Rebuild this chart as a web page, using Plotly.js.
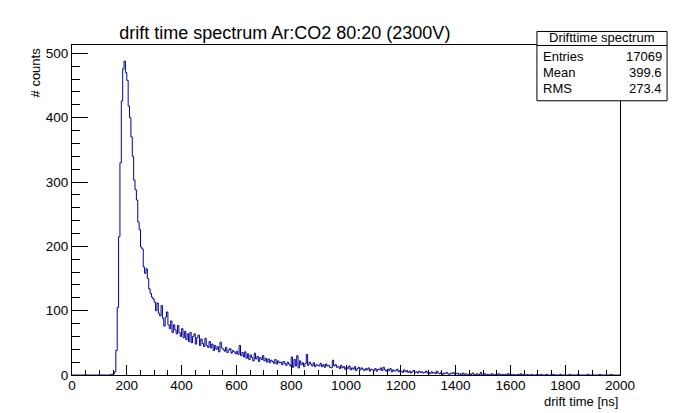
<!DOCTYPE html>
<html>
<head>
<meta charset="utf-8">
<script src="https://cdn.plot.ly/plotly-3.0.1.min.js"></script>
<style>html,body{margin:0;padding:0;background:#fff;}#chart{width:683px;height:413px;}</style>
</head>
<body>
<div id="chart"></div>
<script>
// Histogram: 400 bins of 5 ns from 0 to 2000 ns (counts per bin)
const binLow = 0;
const binWidth = 5;
const counts = [
  // 0-95 ns
  0,0,0,0,0,0,0,0,0,0,0,0,0,0,0,0,0,0,0,0,
  // 100-195
  0,0,0,0,0,0,0,0,1,0,2,5,38,105,215,330,426,476,488,470,
  // 200-295
  458,418,400,370,340,303,288,272,238,226,199,196,168,158,165,150,134,127,121,118,
  // 300-395
  113,100,112,96,92,108,88,76,90,98,78,72,84,66,78,70,64,77,66,60,
  // 400-495
  72,58,68,55,64,52,66,50,60,64,48,58,62,46,56,49,44,57,46,43,
  // 500-595
  52,42,48,38,46,40,44,36,51,42,40,37,43,35,39,41,34,38,36,33,
  // 600-695
  37,32,46,30,35,28,36,26,33,24,31,27,22,34,25,29,21,27,24,30,
  // 700-795
  22,26,20,25,19,23,21,18,24,17,22,19,20,16,21,18,15,20,17,14,
  // 800-895
  28,12,24,14,30,11,22,16,19,13,18,32,15,20,17,14,19,13,16,15,
  // 900-995
  14,18,13,16,12,17,14,15,12,11,23,14,16,12,13,10,15,11,13,9,
  // 1000-1095
  12,10,14,8,11,9,13,7,10,12,8,11,9,7,10,8,11,6,9,8,
  // 1100-1195
  7,10,6,9,8,11,7,12,8,6,9,7,10,5,8,6,7,9,5,7,
  // 1200-1295
  6,4,8,5,7,4,6,3,5,7,4,5,3,6,4,5,3,4,6,3,
  // 1300-1395
  4,2,5,3,4,2,6,3,2,4,1,3,2,4,2,1,3,2,4,1,
  // 1400-1495
  2,3,1,2,0,3,1,2,1,0,2,1,3,1,0,2,1,1,4,0,
  // 1500-1595
  1,2,0,1,1,0,2,1,0,1,0,2,1,0,1,0,1,0,2,0,
  // 1600-1695
  1,0,1,0,0,1,0,2,0,1,0,0,1,0,0,1,0,0,0,1,
  // 1700-1795
  0,0,1,0,0,0,1,0,0,0,0,1,0,0,0,0,1,0,0,0,
  // 1800-1895
  0,0,0,1,0,0,0,0,0,1,0,0,0,0,0,0,1,0,0,0,
  // 1900-1995
  0,0,0,0,0,1,0,0,0,0,0,0,0,1,0,0,0,0,0,0
];
const titleText = "drift time spectrum Ar:CO2 80:20 (2300V)";
const xTitle = "drift time [ns]";
const yTitle = "# counts";
const statsName = "Drifttime spectrum";
const statsLabels = ["Entries", "Mean", "RMS"];
const statsValues = ["17069", "399.6", "273.4"];

// step outline: left edge of each bin, plus the final right edge
const xs = counts.map((c, i) => binLow + i * binWidth);
const ys = counts.slice();
xs.push(binLow + counts.length * binWidth);
ys.push(counts[counts.length - 1]);

const FONT = "Liberation Sans, Arial, Helvetica, sans-serif";
const trace = {
  type: "scatter", mode: "lines", x: xs, y: ys,
  line: {shape: "hv", color: "#000099", width: 1},
  hoverinfo: "skip", showlegend: false
};

// stats box geometry (paper coords)
const bx0 = 0.8484, bx1 = 1.0859, by0 = 0.831, by1 = 1.041, bsep = 0.9985;
const rowY = [0.966, 0.917, 0.868];

const annotations = [
  {xref: "paper", yref: "paper", x: -0.0667, y: 1.0, xanchor: "center", yanchor: "top",
   text: yTitle, textangle: -90, showarrow: false, font: {family: FONT, size: 13, color: "#000"}},
  {xref: "paper", yref: "paper", x: 1.0, y: -0.079, xanchor: "right", yanchor: "middle",
   text: xTitle, showarrow: false, font: {family: FONT, size: 13, color: "#000"}},
  {xref: "paper", yref: "paper", x: (bx0 + bx1) / 2, y: 1.0215, xanchor: "center", yanchor: "middle",
   text: statsName, showarrow: false, font: {family: FONT, size: 13, color: "#000"}}
];
statsLabels.forEach((lab, k) => {
  annotations.push({xref: "paper", yref: "paper", x: 0.8557, y: rowY[k], xanchor: "left", yanchor: "middle",
    text: lab, showarrow: false, font: {family: FONT, size: 13, color: "#000"}});
  annotations.push({xref: "paper", yref: "paper", x: 1.0804, y: rowY[k], xanchor: "right", yanchor: "middle",
    text: statsValues[k], showarrow: false, font: {family: FONT, size: 13, color: "#000"}});
});

const layout = {
  width: 683, height: 413,
  margin: {l: 72, r: 63, t: 45, b: 38, pad: 0},
  paper_bgcolor: "#ffffff", plot_bgcolor: "#ffffff",
  font: {family: FONT, color: "#000"},
  title: {text: titleText, font: {family: FONT, size: 18, color: "#000"},
          x: 0.417, xref: "container", xanchor: "center", y: 0.92, yref: "container", yanchor: "middle"},
  xaxis: {
    range: [0, 2000], dtick: 200, tick0: 0, ticks: "inside", ticklen: 10, tickcolor: "#000", tickwidth: 1,
    minor: {dtick: 50, ticks: "inside", ticklen: 5, tickcolor: "#000", tickwidth: 1},
    showgrid: false, zeroline: false, showline: true, linecolor: "#000", linewidth: 1, mirror: true,
    ticklabelstandoff: -2,
    tickfont: {family: FONT, size: 13.5, color: "#000"}, fixedrange: true
  },
  yaxis: {
    range: [0, 513], dtick: 100, tick0: 0, ticks: "inside", ticklen: 16, tickcolor: "#000", tickwidth: 1,
    minor: {dtick: 20, ticks: "inside", ticklen: 8, tickcolor: "#000", tickwidth: 1},
    showgrid: false, zeroline: false, showline: true, linecolor: "#000", linewidth: 1, mirror: true,
    tickfont: {family: FONT, size: 13.5, color: "#000"}, fixedrange: true
  },
  shapes: [
    {type: "rect", xref: "paper", yref: "paper", x0: bx0, x1: bx1, y0: by0, y1: by1,
     line: {color: "#000", width: 1}, fillcolor: "#fff", layer: "above"},
    {type: "line", xref: "paper", yref: "paper", x0: bx0, x1: bx1, y0: bsep, y1: bsep,
     line: {color: "#000", width: 1}, layer: "above"}
  ],
  annotations: annotations
};

Plotly.newPlot("chart", [trace], layout, {staticPlot: true, displayModeBar: false});
</script>
</body>
</html>
